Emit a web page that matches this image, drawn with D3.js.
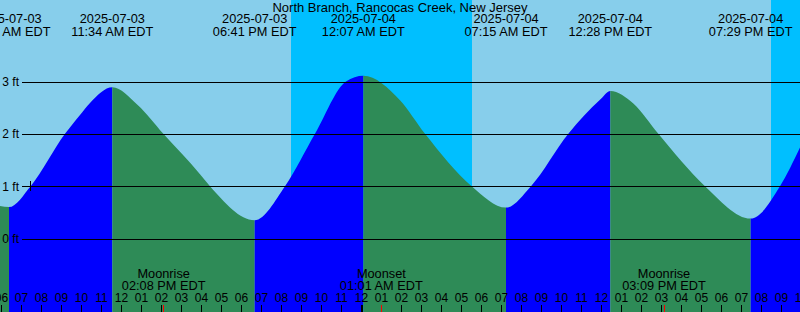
<!DOCTYPE html>
<html>
<head>
<meta charset="utf-8">
<script src="https://cdn.jsdelivr.net/npm/d3@7"></script>
<style>
    html, body { margin: 0; padding: 0; background: #87ceeb; }
    svg { display: block; font-family: "Liberation Sans", Arial, sans-serif; }
</style>
</head>
<body>
<div id="chart"></div>
<script>
const title = 'North Branch, Rancocas Creek, New Jersey';
const windowStart = '2025-07-03 05:57';
const windowEnd = '2025-07-04 21:57';

// high / low tides (EDT wall clock)
const extremeTimes = [
    '2025-07-03 06:24', '2025-07-03 11:34', '2025-07-03 18:41',
    '2025-07-04 00:07', '2025-07-04 07:15', '2025-07-04 12:28', '2025-07-04 19:29',
];
const extremeHeights = [0.60, 2.89, 0.35, 3.11, 0.59, 2.82, 0.38];

// heights
const curveTimes = [
    '2025-07-03 05:57', '2025-07-03 07:29', '2025-07-03 09:12', '2025-07-03 09:57',
    '2025-07-03 10:27', '2025-07-03 12:50', '2025-07-03 14:07', '2025-07-03 15:57',
    '2025-07-03 16:27', '2025-07-03 20:12', '2025-07-03 21:42', '2025-07-03 23:15',
    '2025-07-04 01:57', '2025-07-04 03:12', '2025-07-04 05:32', '2025-07-04 08:30',
    '2025-07-04 10:22', '2025-07-04 11:57', '2025-07-04 13:37', '2025-07-04 14:52',
    '2025-07-04 17:12', '2025-07-04 20:57', '2025-07-04 21:57',
];
const curveHeights = [
    0.62, 1.00, 2.00, 2.36,
    2.59, 2.55, 2.00, 1.23,
    1.00, 1.00, 2.00, 3.00,
    2.64, 2.00, 1.00, 1.00,
    2.00, 2.65, 2.58, 2.00,
    1.00, 1.00, 1.74,
];

const nightStarts = ['2025-07-03 20:30', '2025-07-04 20:30'];
const nightEnds = ['2025-07-04 05:33', '2025-07-04 21:57'];

const moonEvents = ['Moonrise', 'Moonset', 'Moonrise'];
const moonTimes = ['2025-07-03 14:08', '2025-07-04 01:01', '2025-07-04 15:09'];

const nowTime = '2025-07-03 07:27';
const nowHeight = 1.0;

const heightTicks = [0, 1, 2, 3];
const heightUnit = 'ft';

const colors = {
    day: '#87ceeb',
    night: '#00bfff',
    flood: '#0000ff',
    ebb: '#2e8b57',
    moon: '#ff0000',
};

const width = 800;
const height = 312;

const parse = d3.utcParse('%Y-%m-%d %H:%M');
const fmtDate = d3.utcFormat('%Y-%m-%d');
const fmtTime = d3.utcFormat('%I:%M %p EDT');
const fmtHour = d3.utcFormat('%I');

const x = d3.scaleUtc()
    .domain([parse(windowStart), parse(windowEnd)])
    .range([0, width]);
const y = d3.scaleLinear()
    .domain([0, 3])
    .range([238.5, 81.5]);

const svg = d3.select('#chart').append('svg')
    .attr('width', width)
    .attr('height', height);

// day / night background
svg.append('rect')
    .attr('width', width)
    .attr('height', height)
    .attr('fill', colors.day);
svg.selectAll('.night')
    .data(nightStarts.map((s, i) => [parse(s), parse(nightEnds[i])]))
    .enter()
    .append('rect')
    .attr('class', 'night')
    .attr('x', d => x(d[0]))
    .attr('width', d => x(d[1]) - x(d[0]))
    .attr('y', 0)
    .attr('height', height)
    .attr('fill', colors.night);

// tide curve
const extremes = extremeTimes.map((t, i) => ({ t: parse(t), h: extremeHeights[i] }));
const points = extremes
    .concat(curveTimes.map((t, i) => ({ t: parse(t), h: curveHeights[i] })))
    .sort((a, b) => a.t - b.t);

const area = d3.area()
    .curve(d3.curveMonotoneX)
    .x(d => x(d.t))
    .y0(height)
    .y1(d => y(d.h));

svg.append('clipPath')
    .attr('id', 'tide')
    .append('path')
    .attr('d', area(points));

const isHigh = k => extremeHeights[k] > extremeHeights[k === 0 ? 1 : k - 1];
const bounds = [parse(windowStart)].concat(extremes.map(d => d.t), [parse(windowEnd)]);
const n = extremes.length;
const segments = d3.range(n + 1).map(i => ({
    from: bounds[i],
    to: bounds[i + 1],
    rising: i < n ? isHigh(i) : !isHigh(n - 1),
}));

svg.append('g')
    .attr('clip-path', 'url(#tide)')
    .selectAll('rect')
    .data(segments)
    .enter()
    .append('rect')
    .attr('x', d => x(d.from))
    .attr('width', d => x(d.to) - x(d.from))
    .attr('y', 0)
    .attr('height', height)
    .attr('fill', d => d.rising ? colors.flood : colors.ebb);

// height gridlines
const yAxis = d3.axisLeft(y)
    .tickValues(heightTicks)
    .tickSizeInner(-(width - 22))
    .tickSizeOuter(0)
    .tickPadding(3)
    .tickFormat(d => `${d} ${heightUnit}`);
const yAxisG = svg.append('g')
    .attr('transform', 'translate(22,0)')
    .call(yAxis);
yAxisG.select('.domain').remove();
yAxisG.selectAll('line')
    .attr('stroke', '#000')
    .attr('shape-rendering', 'crispEdges');
yAxisG.selectAll('text')
    .attr('fill', '#000')
    .style('font-size', '12px');

// "now" marker
const nowG = svg.append('g')
    .attr('transform', `translate(${x(parse(nowTime))},${y(nowHeight)})`)
    .attr('stroke', '#000')
    .attr('shape-rendering', 'crispEdges');
nowG.append('line').attr('x1', -4).attr('x2', 4);
nowG.append('line').attr('y1', -5).attr('y2', 5);

// hour ticks
const hours = d3.utcHour.range(d3.utcHour.floor(x.domain()[0]), d3.utcHour.offset(x.domain()[1], 1));
const xAxis = d3.axisTop(x)
    .tickValues(hours)
    .tickSize(7)
    .tickPadding(3)
    .tickFormat(fmtHour);
const xAxisG = svg.append('g')
    .attr('transform', `translate(0,${height})`)
    .call(xAxis);
xAxisG.select('.domain').remove();
xAxisG.selectAll('line')
    .attr('stroke', '#000')
    .attr('stroke-width', d => d.getUTCHours() === 0 ? 2 : 1)
    .attr('shape-rendering', 'crispEdges');
xAxisG.selectAll('text')
    .attr('fill', '#000')
    .style('font-size', '12px');

// moon events
const moons = moonTimes.map((t, i) => ({ t: parse(t), name: moonEvents[i] }));
svg.selectAll('.moon-tick')
    .data(moons)
    .enter()
    .append('line')
    .attr('class', 'moon-tick')
    .attr('x1', d => x(d.t))
    .attr('x2', d => x(d.t))
    .attr('y1', height - 7)
    .attr('y2', height)
    .attr('stroke', colors.moon)
    .attr('shape-rendering', 'crispEdges');
const moonText = svg.selectAll('.moon-label')
    .data(moons)
    .enter()
    .append('text')
    .attr('class', 'moon-label')
    .attr('text-anchor', 'middle')
    .style('font-size', '12.75px');
moonText.append('tspan')
    .attr('x', d => x(d.t))
    .attr('y', 278)
    .text(d => d.name);
moonText.append('tspan')
    .attr('x', d => x(d.t))
    .attr('y', 290)
    .text(d => fmtTime(d.t));

// tide time labels
const tideText = svg.selectAll('.tide-label')
    .data(extremes)
    .enter()
    .append('text')
    .attr('class', 'tide-label')
    .attr('text-anchor', 'middle')
    .style('font-size', '12.75px');
tideText.append('tspan')
    .attr('x', d => x(d.t))
    .attr('y', 23)
    .text(d => fmtDate(d.t));
tideText.append('tspan')
    .attr('x', d => x(d.t))
    .attr('y', 36)
    .text(d => fmtTime(d.t));

svg.append('text')
    .attr('x', width / 2)
    .attr('y', 11.5)
    .attr('text-anchor', 'middle')
    .style('font-size', '13px')
    .text(title);
</script>
</body>
</html>
